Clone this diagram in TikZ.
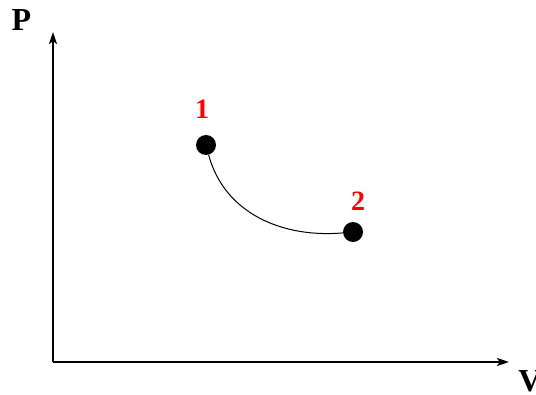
\documentclass[tikz,border=0pt]{standalone}
\usepackage{fontspec}
\setmainfont{Liberation Serif}
\usetikzlibrary{arrows.meta}

\begin{document}
\begin{tikzpicture}[
                state/.style={
                    circle,
                    fill=black,
                    inner sep=0pt,
                    minimum size=15pt
                },
                axis/.style={
                    line width=1.5pt,
                    -{Stealth[length=9pt,width=6pt,inset=2pt]}
                },
                axislabel/.style={
                    font=\fontsize{24}{28}\selectfont\bfseries,
                    inner sep=0pt
                },
                statelabel/.style={
                    font=\fontsize{21}{24}\selectfont\bfseries,
                    text=red,
                    inner sep=0pt
                },
                x=0.75pt,
                y=0.75pt
            ]

        \useasboundingbox (0,0) rectangle (536,394);

        % Axes
        \coordinate (origin) at (53,32);
        \coordinate (ptop) at (53,362);
        \coordinate (vend) at (509,32);
        \draw[axis] (origin) -- (ptop);
        \draw[axis] (origin) -- (vend);
        \node[axislabel] (plabel) at (21.5,373.5) {P};
        \node[axislabel] (vlabel) at (530,13) {V};

        % States
        \node[state] (dot1) at (206,249) {};
        \node[state] (dot2) at (353,162) {};
        \node[statelabel] (lab1) at (202,285) {1};
        \node[statelabel] (lab2) at (358,193) {2};

        % Process
        \draw[line width=0.75pt] (dot1) to[out=-75,in=185] (dot2);

\end{tikzpicture}
\end{document}
